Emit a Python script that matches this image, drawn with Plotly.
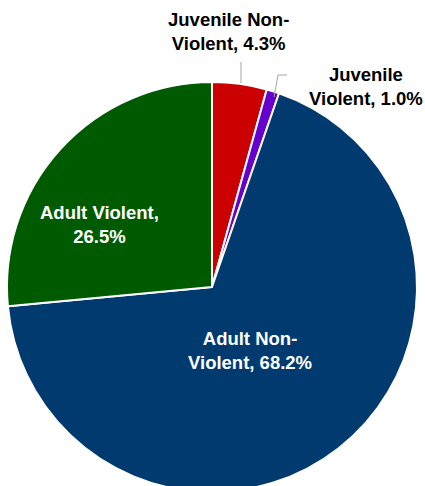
import plotly.graph_objects as go

labels = ["Juvenile Non-Violent", "Juvenile Violent", "Adult Non-Violent", "Adult Violent"]
values = [4.3, 1.0, 68.2, 26.5]
colors = ["#CC0000", "#6600CC", "#003A6F", "#005A00"]
label_text = ["Juvenile Non-<br>Violent, 4.3%", "Juvenile<br>Violent, 1.0%",
              "Adult Non-<br>Violent, 68.2%", "Adult Violent,<br>26.5%"]

W, H = 425, 500

def px(x):
    return x / W

def py(y):
    return (H - y) / H

fig = go.Figure(go.Pie(
    labels=labels, values=values, sort=False, direction="clockwise", rotation=0,
    marker=dict(colors=colors, line=dict(color="white", width=2)),
    textinfo="none", hoverinfo="label+percent", showlegend=False,
    domain=dict(x=[px(7), px(417)], y=[py(492), py(82)]),
))

font = dict(family="Liberation Sans, Arial, sans-serif", size=18.5)
pos = [(228, 32, "black"), (366, 86, "black"), (250, 350, "white"), (99, 225, "white")]
for t, (x, y, c) in zip(label_text, pos):
    fig.add_annotation(x=px(x), y=py(y), xref="paper", yref="paper", text="<b>" + t + "</b>",
                       showarrow=False, font=dict(color=c, **font), align="center",
                       xanchor="center", yanchor="middle")

line = dict(color="#A6A6A6", width=1)
fig.add_shape(type="line", xref="paper", yref="paper", x0=px(241), y0=py(62), x1=px(241), y1=py(83), line=line)
fig.add_shape(type="path", xref="paper", yref="paper",
              path=f"M {px(274)} {py(97)} L {px(278)} {py(75)} L {px(287)} {py(75)}", line=line)

fig.update_layout(width=W, height=H, margin=dict(l=0, r=0, t=0, b=0),
                  paper_bgcolor="white", plot_bgcolor="white")

fig.write_html("out.html", post_script="document.body.style.overflow='hidden';document.documentElement.style.overflow='hidden';document.body.style.margin='0';")
